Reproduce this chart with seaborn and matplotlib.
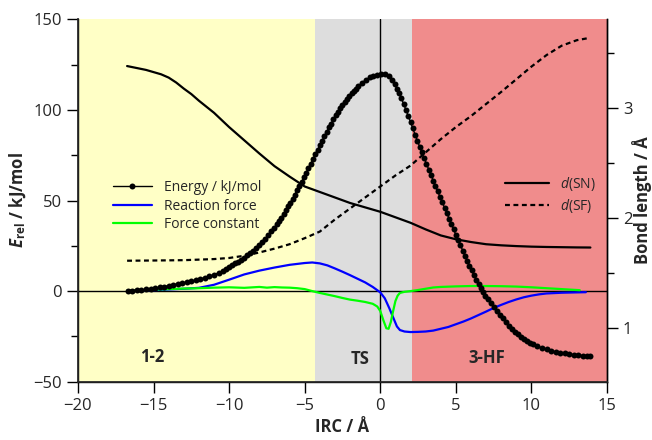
import numpy as np
import pandas as pd
import matplotlib
matplotlib.use("Agg")
import matplotlib.pyplot as plt
import seaborn as sns
from matplotlib.lines import Line2D
from matplotlib.ticker import MultipleLocator

# ---------------- data ----------------
# energy profile, one value per plotted dot
energy_x = [-16.7, -16.4, -16.1, -15.8, -15.5, -15.2, -14.9, -14.6, -14.3, -14.0, -13.7, -13.4,
            -13.1, -12.8, -12.5, -12.2, -11.9, -11.6, -11.3, -11.0, -10.7, -10.4,
            -10.2, -10.0, -9.8, -9.6, -9.4, -9.2, -9.0, -8.8, -8.6, -8.4, -8.2, -8.0, -7.8,
            -7.6, -7.4, -7.2,
            -7.0, -6.85, -6.7, -6.55, -6.4, -6.25, -6.1, -5.95, -5.8, -5.65, -5.5, -5.35,
            -5.2, -5.05, -4.9, -4.75, -4.6, -4.45, -4.3, -4.15, -4.0, -3.85, -3.7, -3.55,
            -3.4, -3.25, -3.1, -2.95, -2.8, -2.65, -2.5, -2.35, -2.2, -2.05, -1.9, -1.75,
            -1.6, -1.45,
            -1.2, -0.95, -0.7, -0.45, -0.2, 0.05, 0.3, 0.55, 0.8,
            0.95, 1.1, 1.25, 1.4, 1.55, 1.7, 1.85, 2.0, 2.15, 2.3, 2.45, 2.6, 2.75, 2.9,
            3.05, 3.2, 3.35, 3.5, 3.65, 3.8, 3.95, 4.1, 4.25, 4.4, 4.55, 4.7, 4.85, 5.0,
            5.15, 5.3, 5.45, 5.6, 5.75, 5.9, 6.05, 6.2, 6.35, 6.5, 6.65, 6.8, 6.95, 7.1,
            7.3, 7.5, 7.7, 7.9, 8.1, 8.3, 8.5, 8.7, 8.9, 9.1, 9.3, 9.5, 9.7, 9.9, 10.1,
            10.4, 10.7, 11.0, 11.3, 11.6, 11.9, 12.2, 12.5, 12.8, 13.1, 13.4, 13.7, 13.9]
energy_y = [0.2, 0.3, 0.45, 0.65, 0.9, 1.2, 1.6, 2.0, 2.5, 3.0, 3.5, 4.0,
            4.5, 5.0, 5.5, 6.1, 6.7, 7.4, 8.2, 9.1, 10.1, 11.3,
            12.4, 13.3, 14.3, 15.3, 16.3, 17.4, 18.5, 19.7, 21.0, 22.4, 23.9, 25.5, 27.2,
            29.0, 30.9, 32.9,
            35.0, 36.8, 38.6, 40.5, 42.5, 44.6, 46.7, 48.8, 51.1, 53.3, 55.6, 58.0,
            60.4, 62.8, 65.3, 67.8, 70.4, 73.0, 75.5, 78.0, 80.6, 83.1, 85.5, 87.9,
            90.3, 92.5, 94.8, 97.0, 98.9, 100.8, 102.7, 104.4, 106.1, 107.6, 109.1, 110.4,
            111.8, 113.1,
            115.0, 116.6, 117.9, 118.9, 119.5, 119.8, 119.6, 118.7, 116.6,
            114.1, 111.7, 109.1, 106.3, 103.2, 100.0, 96.7, 93.3, 89.8, 86.4, 83.1, 79.8, 76.5, 73.4,
            70.2, 67.1, 64.0, 61.0, 58.0, 55.0, 52.0, 49.0, 46.0, 43.0, 40.0, 37.0, 34.0, 31.1,
            28.2, 25.3, 22.4, 19.6, 16.8, 14.1, 11.4, 8.8, 6.3, 3.9, 1.6, -0.5, -2.5, -4.3,
            -6.6, -8.9, -11.0, -13.1, -15.1, -17.2, -19.1, -20.8, -22.4, -23.9, -25.2, -26.4, -27.5, -28.4, -29.3,
            -30.4, -31.4, -32.2, -32.9, -33.5, -34.0, -34.4, -34.8, -35.1, -35.35, -35.55, -35.7, -35.8]

force_x = [-16.75, -15, -14, -13, -12, -11, -10, -9, -8, -7, -6, -5, -4.5, -4, -3.5, -3,
           -2.5, -2, -1.5, -1, -0.5, 0, 0.3, 0.6, 0.9, 1.1, 1.3, 1.6, 2, 2.5, 3, 3.5, 4,
           4.5, 5, 5.5, 6, 6.5, 7, 7.5, 8, 8.5, 9, 9.5, 10, 10.5, 11, 12, 13, 13.6]
force_y = [0.2, 0.5, 0.9, 1.3, 1.8, 3.5, 6.3, 9.2, 11.3, 13.0, 14.5, 15.5, 15.8, 15.3, 14.2, 12.5,
           10.7, 8.8, 6.8, 4.8, 2.3, -0.7, -4, -9.5, -15.5, -19.5, -21.5, -22.3, -22.6, -22.5, -22.3, -21.8, -20.8,
           -19.8, -18.3, -16.8, -15.1, -13.2, -11.3, -9.3, -7.6, -6.0, -4.6, -3.4, -2.5, -1.8, -1.3, -0.9, -0.7, -0.6]

fconst_x = [-16.75, -16, -15, -14, -13, -12, -11, -10, -9, -8, -7.5, -7, -6.5, -6, -5.5, -5,
            -4.5, -4, -3.5, -3, -2.5, -2, -1.5, -1, -0.5, -0.2, 0, 0.2, 0.4, 0.55, 0.7, 0.85,
            1.0, 1.15, 1.3, 1.6, 2.0, 2.5, 3, 3.5, 4, 5, 6, 7, 8, 9, 10, 11, 12, 13, 13.2]
fconst_y = [0.2, 0.4, 0.8, 1.1, 1.4, 1.6, 1.9, 2.1, 1.8, 2.3, 1.9, 2.2, 2.0, 1.9, 1.6, 1.1,
            0.0, -1.0, -1.9, -2.8, -3.8, -4.7, -5.3, -6.0, -7.0, -8.5, -11, -16, -20.5, -20.8, -17, -11,
            -5.5, -2.5, -1.0, -0.4, 0.0, 0.6, 1.3, 2.0, 2.3, 2.6, 2.8, 2.8, 2.7, 2.5, 2.1, 1.6, 1.1, 0.6, 0.5]

dsn_x = [-16.75, -15.5, -14.5, -14, -13.5, -13, -12.5, -12, -11, -10, -9, -8, -7, -6, -5,
         -4, -3, -2, -1, 0, 1, 2, 3, 4, 5, 6, 7, 8, 9, 10, 11, 12, 13, 13.9]
dsn_y = [3.385, 3.35, 3.31, 3.28, 3.235, 3.18, 3.13, 3.07, 2.96, 2.83, 2.71, 2.59, 2.475, 2.38, 2.29,
         2.24, 2.19, 2.14, 2.10, 2.06, 2.01, 1.96, 1.90, 1.845, 1.81, 1.785, 1.765, 1.755, 1.748, 1.743,
         1.74, 1.738, 1.736, 1.735]

dsf_x = [-16.75, -15, -13, -11, -10, -9, -8, -7, -6, -5, -4, -3, -2, -1, 0, 1, 2, 3, 4, 5,
         6, 7, 8, 9, 10, 11, 12, 13, 13.8]
dsf_y = [1.615, 1.617, 1.62, 1.63, 1.64, 1.66, 1.69, 1.725, 1.765, 1.82, 1.88, 1.99, 2.09, 2.19,
         2.29, 2.39, 2.48, 2.6, 2.72, 2.83, 2.93, 3.04, 3.15, 3.265, 3.38, 3.485, 3.57, 3.62, 3.64]

region_edges = [-20, -4.33, 2.1, 15]
region_colors = ["#FFFFC6", "#DDDDDD", "#F08C8C"]
region_labels = ["1-2", "TS", "3-HF"]
region_label_x = [-15.1, -1.34, 7.05]
region_label_y = [-36.4, -37.7, -36.8]

legend_left = ["Energy / kJ/mol", "Reaction force", "Force constant"]
legend_right = [r"$d$(SN)", r"$d$(SF)"]

# ---------------- style ----------------
FONT = "Open Sans"
sns.set_theme(style="ticks")
plt.rcParams["font.family"] = [FONT, "Noto Sans", "DejaVu Sans"]
plt.rcParams["axes.unicode_minus"] = True
plt.rcParams["mathtext.fontset"] = "custom"
plt.rcParams["mathtext.rm"] = FONT
plt.rcParams["mathtext.it"] = FONT + ":italic"
plt.rcParams["mathtext.bf"] = FONT + ":bold"
try:
    plt.rcParams["mathtext.bfit"] = FONT + ":italic:bold"
    has_bfit = True
except Exception:
    has_bfit = False

fig = plt.figure(figsize=(6.52, 4.4), dpi=100)
ax = fig.add_axes([0.1196, 0.1325, 0.8114, 0.8236])

# background regions
for i in range(3):
    ax.axvspan(region_edges[i], region_edges[i + 1], color=region_colors[i], lw=0, zorder=0)

ax.axhline(0, color="black", lw=1.0, zorder=1)
ax.axvline(0, color="black", lw=1.0, zorder=1)

df_e = pd.DataFrame({"x": energy_x, "y": energy_y})
df_f = pd.DataFrame({"x": force_x, "y": force_y})
df_k = pd.DataFrame({"x": fconst_x, "y": fconst_y})

sns.lineplot(data=df_f, x="x", y="y", ax=ax, color="#0000FF", lw=1.6, zorder=3)
sns.lineplot(data=df_k, x="x", y="y", ax=ax, color="#00FF00", lw=1.6, zorder=3)
sns.lineplot(data=df_e, x="x", y="y", ax=ax, color="black", lw=1.0, marker="o",
             markersize=4.3, markeredgewidth=0, zorder=4)

for lab, lx, ly in zip(region_labels, region_label_x, region_label_y):
    ax.text(lx, ly, lab, ha="center", va="center", fontsize=12, fontweight="bold")

ax.set_xlim(-20, 15)
ax.set_ylim(-50, 150)
ax.xaxis.set_major_locator(MultipleLocator(5))
ax.yaxis.set_major_locator(MultipleLocator(50))
ax.yaxis.set_minor_locator(MultipleLocator(25))
ax.tick_params(axis="both", which="major", length=8, width=1, labelsize=12, color="black")
ax.tick_params(axis="y", which="minor", length=5, width=1, color="black")
for s in ["left", "bottom", "right"]:
    ax.spines[s].set_linewidth(1)
    ax.spines[s].set_color("black")
ax.spines["top"].set_visible(False)

ax.set_xlabel("IRC / Å", fontsize=12, fontweight="bold", labelpad=3)
if has_bfit:
    ylab = r"$\mathbfit{E}_{\mathbf{rel}}$ / kJ/mol"
else:
    ylab = r"$E_{\mathrm{rel}}$ / kJ/mol"
ax.set_ylabel(ylab, fontsize=12, fontweight="bold", labelpad=4)

# right axis
ax2 = ax.twinx()
df_sn = pd.DataFrame({"x": dsn_x, "y": dsn_y})
df_sf = pd.DataFrame({"x": dsf_x, "y": dsf_y})
sns.lineplot(data=df_sn, x="x", y="y", ax=ax2, color="black", lw=1.6, zorder=3)
sns.lineplot(data=df_sf, x="x", y="y", ax=ax2, color="black", lw=1.6, dashes=False,
             linestyle=(0, (2.2, 1.6)), zorder=3)
ax2.set_ylim(0.515, 3.81)
ax2.yaxis.set_major_locator(MultipleLocator(1))
ax2.yaxis.set_minor_locator(MultipleLocator(0.5))
ax2.tick_params(axis="y", which="major", length=8, width=1, labelsize=12, color="black")
ax2.tick_params(axis="y", which="minor", length=5, width=1, color="black")
ax2.spines["top"].set_visible(False)
ax2.spines["right"].set_linewidth(1)
ax2.spines["right"].set_color("black")
ax2.set_ylabel("Bond length / Å", fontsize=12, fontweight="bold", labelpad=0)
ax2.set_xlim(-20, 15)

# legends
h_left = [Line2D([], [], color="black", lw=1.0, marker="o", markersize=4.3, markeredgewidth=0),
          Line2D([], [], color="#0000FF", lw=1.6),
          Line2D([], [], color="#00FF00", lw=1.6)]
leg1 = ax2.legend(h_left, legend_left, loc="center left", bbox_to_anchor=(0.066, 0.484),
                  frameon=False, fontsize=10, handlelength=2.8, handletextpad=0.9,
                  labelspacing=0.25, borderpad=0, borderaxespad=0, numpoints=1)
ax2.add_artist(leg1)
h_right = [Line2D([], [], color="black", lw=1.6),
           Line2D([], [], color="black", lw=1.6, linestyle=(0, (2.2, 1.6)))]
ax2.legend(h_right, legend_right, loc="center left", bbox_to_anchor=(0.807, 0.515),
           frameon=False, fontsize=10, handlelength=3.2, handletextpad=0.8,
           labelspacing=0.25, borderpad=0, borderaxespad=0)

fig.savefig("out.png", dpi=100)
